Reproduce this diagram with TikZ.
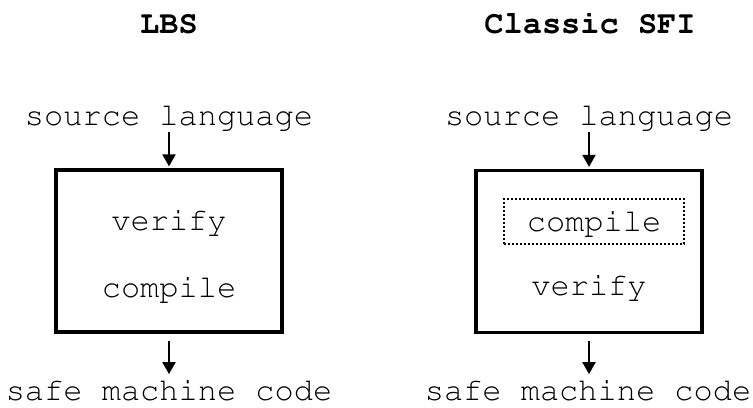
\documentclass[tikz,border=0pt]{standalone}
\usepackage[T1]{fontenc}
\usepackage{courier}
\usetikzlibrary{arrows.meta}

\begin{document}
\begin{tikzpicture}[x=0.5pt,y=-0.5pt,
    every node/.style={font=\ttfamily\fontsize{16}{18}\selectfont,inner sep=0pt},
    label/.style={anchor=base},
    title/.style={anchor=base,font=\ttfamily\bfseries\fontsize{16}{18}\selectfont},
    stage/.style={draw,line width=1.6pt,minimum width=113pt,minimum height=81pt},
    arr/.style={-{Triangle[length=6pt,width=6.5pt]},line width=1pt}]
          \useasboundingbox (0,0) rectangle (753,407);
          \node[title] (tL) at (169,33) {LBS};
          \node[title] (tR) at (590,33) {Classic SFI};
          \node[label] (srcL) at (169,125) {source language};
          \node[label] (srcR) at (589,125) {source language};
          \node[stage] (boxL) at (169,251) {};
          \node[stage] (boxR) at (589,251.5) {};
          \node[label] (verL) at (169,230) {verify};
          \node[label] (comL) at (169,297) {compile};
          \node[label] (comR) at (594,231) {compile};
          \node[label] (verR) at (589,295) {verify};
          \node[draw,dash pattern=on 1.1pt off 0.9pt,line width=1.4pt,minimum width=90pt,minimum height=22.5pt] (dot) at (594,221.5) {};
          \node[label] (outL) at (169,400) {safe machine code};
          \node[label] (outR) at (588,400) {safe machine code};
            \draw[arr,shorten <=1pt,shorten >=1pt] (srcL.south -| boxL.north) -- (boxL.north);
            \draw[arr,shorten <=1pt,shorten >=1pt] (srcR.south -| boxR.north) -- (boxR.north);
            \draw[arr,shorten <=3.5pt,shorten >=2.5pt] (boxL.south) -- (outL.north -| boxL.south);
            \draw[arr,shorten <=3.5pt,shorten >=2.5pt] (boxR.south) -- (outR.north -| boxR.south);
        \end{tikzpicture}
\end{document}
